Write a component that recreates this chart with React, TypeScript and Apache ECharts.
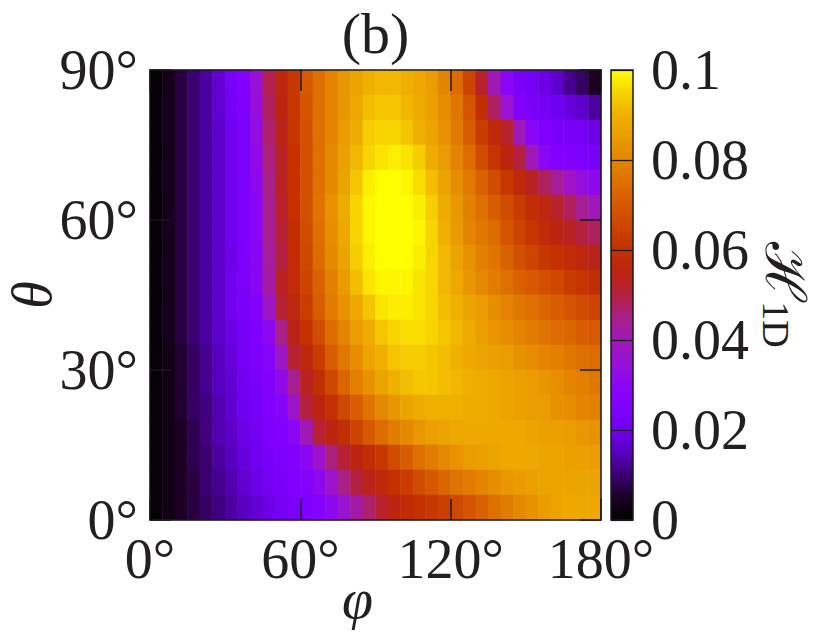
import React, { useEffect, useRef } from "react";
import * as echarts from "echarts";

// Cell centres (degrees)
const phiCells = [2.5, 7.5, 12.5, 17.5, 22.5, 27.5, 32.5, 37.5, 42.5, 47.5, 52.5, 57.5, 62.5, 67.5, 72.5, 77.5, 82.5, 87.5, 92.5, 97.5, 102.5, 107.5, 112.5, 117.5, 122.5, 127.5, 132.5, 137.5, 142.5, 147.5, 152.5, 157.5, 162.5, 167.5, 172.5, 177.5];
const thetaCells = [2.5, 7.5, 12.5, 17.5, 22.5, 27.5, 32.5, 37.5, 42.5, 47.5, 52.5, 57.5, 62.5, 67.5, 72.5, 77.5, 82.5, 87.5];

// H_1D values, rows from theta = 87.5 (top) down to theta = 2.5 (bottom)
const r875 = [0.001, 0.004, 0.007, 0.010, 0.013, 0.017, 0.022, 0.026, 0.035, 0.049, 0.056, 0.062, 0.070, 0.075, 0.080, 0.084, 0.087, 0.090, 0.091, 0.091, 0.090, 0.088, 0.085, 0.080, 0.074, 0.065, 0.052, 0.040, 0.029, 0.023, 0.021, 0.019, 0.016, 0.012, 0.009, 0.005];
const r825 = [0.001, 0.004, 0.007, 0.010, 0.013, 0.017, 0.021, 0.025, 0.034, 0.048, 0.055, 0.062, 0.069, 0.075, 0.080, 0.084, 0.088, 0.092, 0.093, 0.093, 0.091, 0.089, 0.086, 0.082, 0.077, 0.069, 0.059, 0.048, 0.036, 0.027, 0.023, 0.021, 0.020, 0.018, 0.016, 0.013];
const r775 = [0.001, 0.004, 0.007, 0.010, 0.013, 0.016, 0.020, 0.024, 0.033, 0.047, 0.054, 0.061, 0.068, 0.075, 0.080, 0.085, 0.089, 0.094, 0.095, 0.095, 0.093, 0.090, 0.087, 0.083, 0.078, 0.071, 0.063, 0.057, 0.052, 0.040, 0.029, 0.025, 0.023, 0.022, 0.021, 0.019];
const r725 = [0.001, 0.004, 0.007, 0.010, 0.013, 0.016, 0.020, 0.024, 0.032, 0.046, 0.053, 0.060, 0.068, 0.075, 0.081, 0.086, 0.091, 0.095, 0.097, 0.098, 0.097, 0.094, 0.089, 0.085, 0.080, 0.074, 0.067, 0.061, 0.055, 0.050, 0.040, 0.030, 0.026, 0.025, 0.024, 0.023];
const r675 = [0.001, 0.004, 0.007, 0.010, 0.013, 0.016, 0.020, 0.024, 0.031, 0.045, 0.053, 0.060, 0.068, 0.075, 0.081, 0.087, 0.093, 0.098, 0.100, 0.100, 0.099, 0.096, 0.092, 0.087, 0.082, 0.077, 0.072, 0.067, 0.062, 0.057, 0.053, 0.048, 0.043, 0.038, 0.034, 0.031];
const r625 = [0.001, 0.004, 0.007, 0.010, 0.013, 0.016, 0.020, 0.024, 0.030, 0.044, 0.052, 0.060, 0.068, 0.076, 0.083, 0.089, 0.095, 0.099, 0.100, 0.100, 0.100, 0.098, 0.094, 0.089, 0.084, 0.079, 0.075, 0.071, 0.067, 0.063, 0.059, 0.056, 0.052, 0.048, 0.044, 0.040];
const r575 = [0.001, 0.004, 0.007, 0.010, 0.013, 0.016, 0.020, 0.024, 0.030, 0.044, 0.051, 0.059, 0.067, 0.075, 0.082, 0.088, 0.095, 0.099, 0.100, 0.100, 0.100, 0.099, 0.095, 0.090, 0.085, 0.080, 0.077, 0.074, 0.069, 0.065, 0.061, 0.058, 0.055, 0.053, 0.050, 0.048];
const r525 = [0.001, 0.004, 0.007, 0.010, 0.013, 0.016, 0.019, 0.023, 0.029, 0.043, 0.050, 0.058, 0.066, 0.074, 0.081, 0.087, 0.094, 0.098, 0.100, 0.100, 0.100, 0.098, 0.095, 0.091, 0.087, 0.083, 0.079, 0.076, 0.072, 0.068, 0.065, 0.062, 0.060, 0.058, 0.056, 0.054];
const r475 = [0.001, 0.004, 0.007, 0.010, 0.013, 0.016, 0.020, 0.023, 0.029, 0.042, 0.053, 0.058, 0.065, 0.072, 0.079, 0.085, 0.092, 0.097, 0.099, 0.099, 0.099, 0.097, 0.095, 0.091, 0.088, 0.084, 0.081, 0.078, 0.075, 0.072, 0.070, 0.068, 0.066, 0.063, 0.061, 0.059];
const r425 = [0.001, 0.004, 0.007, 0.010, 0.013, 0.016, 0.020, 0.023, 0.027, 0.038, 0.051, 0.056, 0.063, 0.071, 0.078, 0.083, 0.088, 0.093, 0.097, 0.098, 0.098, 0.097, 0.095, 0.092, 0.090, 0.087, 0.085, 0.082, 0.080, 0.077, 0.075, 0.073, 0.071, 0.069, 0.067, 0.065];
const r375 = [0.001, 0.004, 0.007, 0.010, 0.013, 0.016, 0.019, 0.022, 0.025, 0.031, 0.045, 0.054, 0.060, 0.067, 0.074, 0.080, 0.085, 0.089, 0.093, 0.095, 0.096, 0.096, 0.095, 0.093, 0.091, 0.089, 0.086, 0.084, 0.082, 0.080, 0.078, 0.076, 0.074, 0.073, 0.071, 0.070];
const r325 = [0.001, 0.003, 0.006, 0.009, 0.012, 0.015, 0.018, 0.021, 0.024, 0.028, 0.038, 0.051, 0.056, 0.063, 0.071, 0.077, 0.082, 0.087, 0.090, 0.093, 0.094, 0.094, 0.093, 0.092, 0.090, 0.088, 0.087, 0.086, 0.085, 0.083, 0.082, 0.080, 0.079, 0.077, 0.075, 0.074];
const r275 = [0.001, 0.003, 0.006, 0.009, 0.012, 0.015, 0.017, 0.020, 0.023, 0.026, 0.032, 0.044, 0.053, 0.059, 0.066, 0.073, 0.079, 0.083, 0.087, 0.090, 0.092, 0.093, 0.093, 0.092, 0.091, 0.090, 0.089, 0.088, 0.087, 0.086, 0.085, 0.084, 0.082, 0.080, 0.079, 0.077];
const r225 = [0.001, 0.003, 0.006, 0.009, 0.011, 0.014, 0.017, 0.020, 0.022, 0.025, 0.028, 0.037, 0.050, 0.055, 0.060, 0.066, 0.071, 0.076, 0.081, 0.084, 0.087, 0.089, 0.090, 0.090, 0.090, 0.089, 0.089, 0.088, 0.087, 0.086, 0.085, 0.085, 0.083, 0.082, 0.080, 0.079];
const r175 = [0.001, 0.003, 0.005, 0.008, 0.011, 0.014, 0.016, 0.019, 0.021, 0.024, 0.026, 0.030, 0.040, 0.051, 0.055, 0.059, 0.065, 0.070, 0.074, 0.078, 0.081, 0.084, 0.086, 0.087, 0.088, 0.088, 0.088, 0.088, 0.088, 0.088, 0.087, 0.086, 0.086, 0.085, 0.084, 0.083];
const r125 = [0.001, 0.003, 0.005, 0.008, 0.010, 0.013, 0.015, 0.018, 0.020, 0.022, 0.024, 0.026, 0.030, 0.037, 0.046, 0.051, 0.055, 0.059, 0.062, 0.067, 0.071, 0.075, 0.078, 0.081, 0.083, 0.085, 0.086, 0.087, 0.088, 0.088, 0.088, 0.087, 0.087, 0.086, 0.086, 0.085];
const r075 = [0.001, 0.003, 0.005, 0.007, 0.010, 0.012, 0.014, 0.017, 0.019, 0.021, 0.023, 0.025, 0.027, 0.031, 0.037, 0.045, 0.050, 0.054, 0.057, 0.060, 0.063, 0.067, 0.070, 0.073, 0.076, 0.078, 0.080, 0.082, 0.084, 0.085, 0.086, 0.087, 0.087, 0.087, 0.087, 0.087];
const r025 = [0.001, 0.003, 0.005, 0.007, 0.009, 0.011, 0.013, 0.015, 0.017, 0.019, 0.021, 0.023, 0.025, 0.027, 0.031, 0.036, 0.042, 0.047, 0.052, 0.055, 0.058, 0.060, 0.062, 0.064, 0.066, 0.069, 0.072, 0.075, 0.078, 0.081, 0.083, 0.085, 0.087, 0.088, 0.088, 0.088];

const rowsTopDown = [r875, r825, r775, r725, r675, r625, r575, r525, r475, r425, r375, r325, r275, r225, r175, r125, r075, r025];

// Axis ticks
const phiTicks = [0, 60, 120, 180];
const thetaTicks = [0, 30, 60, 90];
const cbTicks = [0, 0.02, 0.04, 0.06, 0.08, 0.1];

// Palette, evenly spread from 0 to 0.1 (steps of 0.005)
const PALETTE = [
  "#000000", "#1c0024", "#3a0070", "#5800c0", "#7200f0", "#8000ff", "#8a06f4",
  "#9810d8", "#a018b8", "#a82088", "#b42040", "#bc2410", "#c43000", "#cc4400",
  "#d65800", "#de7000", "#e48400", "#ea9c00", "#f0b000", "#f8d400", "#ffff00",
];

const FONT = "'Liberation Serif', 'DejaVu Serif', serif";
const TXT = "#231f20";
const LINE = "#1a1a1a";
const FS = 56;

export default function App() {
  const ref = useRef<HTMLDivElement>(null);
  useEffect(() => {
    if (!ref.current) return;
    document.body.style.margin = "0";
    const chart = echarts.init(ref.current, undefined, { renderer: "svg" });
    const data: number[][] = [];
    const nRows = rowsTopDown.length;
    rowsTopDown.forEach((row, r) => {
      row.forEach((v, c) => data.push([c, nRows - 1 - r, v]));
    });
    const gL = 150, gT = 70, gW = 451, gH = 450;
    const cbL = 611, cbW = 22;
    const valueAxisBase = {
      type: "value",
      gridIndex: 0,
      z: 10,
      splitLine: { show: false },
      axisLine: { show: true, onZero: false, lineStyle: { color: LINE, width: 1.5 } },
      axisTick: { show: true, inside: true, length: 21, lineStyle: { color: LINE, width: 1.5 } },
    };
    const stops = PALETTE.map((c, i) => ({ offset: i / (PALETTE.length - 1), color: c }));
    const option: any = {
      animation: false,
      backgroundColor: "#ffffff",
      textStyle: { fontFamily: FONT },
      grid: [
        { left: gL, top: gT, width: gW, height: gH, outerBoundsMode: "none", containLabel: false },
        { left: cbL, top: gT, width: cbW, height: gH, outerBoundsMode: "none", containLabel: false },
      ],
      xAxis: [
        { type: "category", gridIndex: 0, data: phiCells, show: false },
        {
          ...valueAxisBase,
          min: phiTicks[0],
          max: phiTicks[phiTicks.length - 1],
          interval: 60,
          position: "bottom",
          axisLabel: { formatter: "{value}°", fontSize: FS, lineHeight: 40, color: TXT, fontFamily: FONT, margin: 19 },
          name: "φ",
          nameLocation: "middle",
          nameGap: 54,
          nameMoveOverlap: false,
          nameTextStyle: { fontSize: FS, fontStyle: "italic", color: TXT, fontFamily: FONT, padding: [0, 36, 0, 0], lineHeight: 50 },
        },
        {
          ...valueAxisBase,
          min: phiTicks[0],
          max: phiTicks[phiTicks.length - 1],
          interval: 60,
          position: "top",
          axisLabel: { show: false },
        },
        { type: "value", gridIndex: 1, min: 0, max: 1, show: false },
      ],
      yAxis: [
        { type: "category", gridIndex: 0, data: thetaCells, show: false },
        {
          ...valueAxisBase,
          min: thetaTicks[0],
          max: thetaTicks[thetaTicks.length - 1],
          interval: 30,
          position: "left",
          axisLabel: { formatter: "{value}°", fontSize: FS, lineHeight: 40, color: TXT, fontFamily: FONT, margin: 12 },
          name: "θ",
          nameLocation: "middle",
          nameGap: 96,
          nameRotate: 90,
          nameMoveOverlap: false,
          nameTextStyle: { fontSize: FS, fontStyle: "italic", color: TXT, fontFamily: FONT, lineHeight: 44 },
        },
        {
          ...valueAxisBase,
          min: thetaTicks[0],
          max: thetaTicks[thetaTicks.length - 1],
          interval: 30,
          position: "right",
          axisLabel: { show: false },
        },
        {
          type: "value",
          gridIndex: 1,
          min: cbTicks[0],
          max: cbTicks[cbTicks.length - 1],
          interval: 0.02,
          position: "right",
          z: 30,
          splitLine: { show: true, lineStyle: { color: LINE, width: 1.2 } },
          axisLine: { show: false },
          axisTick: { show: false },
          axisLabel: { fontSize: FS, lineHeight: 40, color: TXT, fontFamily: FONT, margin: 18 },
          name: "{h|ℋ}{s|1D}",
          nameLocation: "middle",
          nameGap: 124,
          nameRotate: -90,
          nameMoveOverlap: false,
          nameTextStyle: {
            color: TXT,
            fontFamily: FONT,
            rich: {
              h: { fontSize: FS, fontFamily: FONT, color: TXT, lineHeight: 56, verticalAlign: "top" },
              s: { fontSize: 38, fontFamily: FONT, color: TXT, lineHeight: 38, padding: [24, 0, 0, 0], verticalAlign: "bottom" },
            },
          },
        },
      ],
      visualMap: {
        type: "continuous",
        show: false,
        min: 0,
        max: 0.1,
        seriesIndex: 0,
        inRange: { color: PALETTE },
      },
      series: [
        {
          type: "heatmap",
          xAxisIndex: 0,
          yAxisIndex: 0,
          data,
          progressive: 0,
          emphasis: { disabled: true },
          itemStyle: { borderWidth: 0 },
        },
        { type: "scatter", xAxisIndex: 3, yAxisIndex: 3, data: [] },
      ],
      graphic: [
        {
          type: "rect",
          z: 0,
          shape: { x: cbL, y: gT, width: cbW, height: gH },
          style: { fill: new echarts.graphic.LinearGradient(0, 1, 0, 0, stops), stroke: "none" },
        },
        {
          type: "rect",
          z: 40,
          shape: { x: cbL, y: gT, width: cbW, height: gH },
          style: { fill: "none", stroke: LINE, lineWidth: 1.5 },
        },
        {
          type: "text",
          z: 40,
          x: gL + gW / 2,
          y: 33,
          style: { text: "(b)", fontSize: 58, fontFamily: FONT, fill: TXT, align: "center", verticalAlign: "middle" },
        },
      ],
    };
    chart.setOption(option);
    return () => chart.dispose();
  }, []);
  return <div ref={ref} style={{ width: 822, height: 632 }} />;
}
